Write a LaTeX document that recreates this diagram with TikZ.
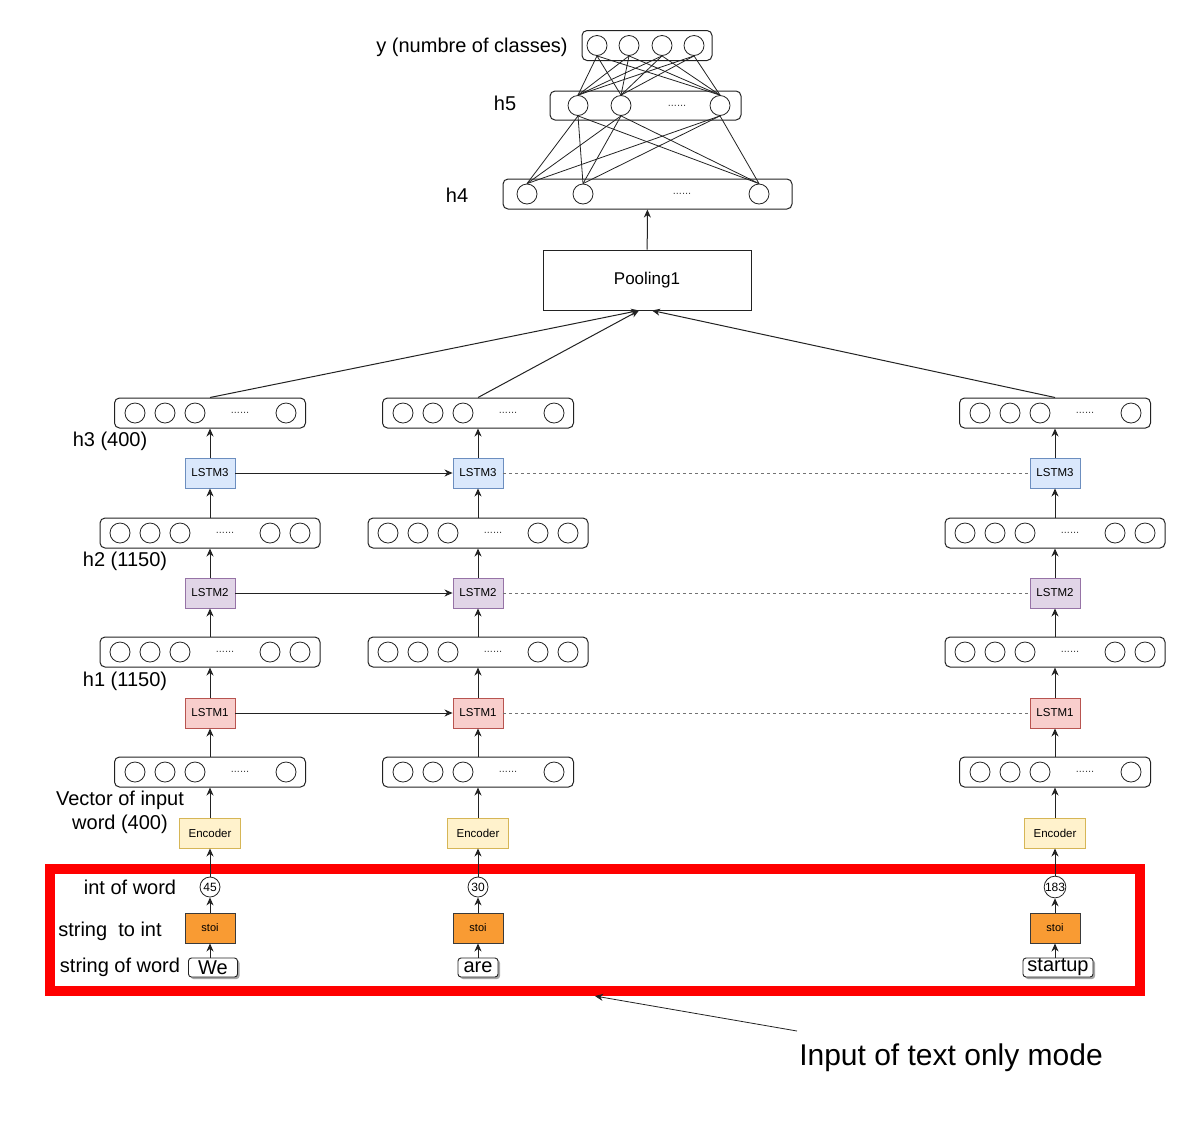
\documentclass[tikz,border=0pt]{standalone}
\usepackage{fontspec}
\setmainfont{Liberation Sans}
\usetikzlibrary{arrows.meta,shadows}
\definecolor{lstmCfill}{HTML}{DAE8FC}\definecolor{lstmCdraw}{HTML}{6C8EBF}
\definecolor{lstmBfill}{HTML}{E1D5E7}\definecolor{lstmBdraw}{HTML}{9673A6}
\definecolor{lstmAfill}{HTML}{F8CECC}\definecolor{lstmAdraw}{HTML}{B85450}
\definecolor{encfill}{HTML}{FFF2CC}\definecolor{encdraw}{HTML}{D6B656}
\definecolor{stoifill}{HTML}{F99B33}\definecolor{stoidraw}{HTML}{3A3A3A}
\definecolor{linecol}{HTML}{222222}
\newcommand\mklayerfive[3]{%
  \node[layerbox, minimum width=191pt] (#1) at (#2,#3) {};
  \foreach \o/\q in {-75/a,-45/b,-15/c,76/d}{\node[unit] (#1\q) at ([xshift=\o pt]#1.center) {};}
  \node[dots] (#1dots) at ([xshift=30pt]#1.center) {......};
}
\newcommand\mklayersix[3]{%
  \node[layerbox, minimum width=220pt] (#1) at (#2,#3) {};
  \foreach \o/\q in {-90/a,-60/b,-30/c,60/d,90/e}{\node[unit] (#1\q) at ([xshift=\o pt]#1.center) {};}
  \node[dots] (#1dots) at ([xshift=15pt]#1.center) {......};
}
\begin{document}
\begin{tikzpicture}[x=1pt,y=-1pt,
  lab/.style={font=\fontsize{20}{23}\selectfont, inner sep=0pt},
  layerbox/.style={draw=linecol, rounded corners=5pt, line width=1pt, minimum height=30pt, inner sep=0pt},
  unit/.style={circle, draw=linecol, line width=0.8pt, minimum size=20pt, inner sep=0pt},
  dots/.style={font=\fontsize{11}{12}\selectfont, text=black!75, inner sep=0pt},
  smallbox/.style={rectangle, line width=0.9pt, minimum height=30pt, inner sep=0pt, font=\fontsize{11.5}{13}\selectfont},
  lstmC/.style={smallbox, fill=lstmCfill, draw=lstmCdraw, minimum width=50pt},
  lstmB/.style={smallbox, fill=lstmBfill, draw=lstmBdraw, minimum width=50pt},
  lstmA/.style={smallbox, fill=lstmAfill, draw=lstmAdraw, minimum width=50pt},
  encbox/.style={smallbox, fill=encfill, draw=encdraw, minimum width=61pt},
  stoibox/.style={smallbox, fill=stoifill, draw=stoidraw, minimum width=50pt, font=\fontsize{11}{13}\selectfont},
  numcirc/.style={circle, draw=linecol, line width=0.8pt, minimum size=20pt, inner sep=0pt, font=\fontsize{12}{13}\selectfont},
  wordbox/.style={draw=linecol, fill=white, line width=0.9pt, rounded corners=3pt, minimum height=19pt, inner sep=0pt,
     font=\fontsize{20}{20}\selectfont, drop shadow={shadow xshift=2pt, shadow yshift=-2pt, opacity=0.35, fill=black}},
  arr/.style={draw=linecol, line width=1pt, -{Stealth[length=8pt,width=7pt,inset=2.5pt]}},
  dotline/.style={draw=black!55, line width=1pt, dash pattern=on 3pt off 3pt},
  net/.style={draw=linecol, line width=0.8pt},
]
\useasboundingbox (0,0) rectangle (1201,1120);

% red input frame
\node[draw=red, line width=10pt, minimum width=1090pt, minimum height=122.5pt, inner sep=0pt] (redbox) at (595,929.75) {};

% top network
\node[layerbox, minimum width=130pt] (ylay) at (647,45.5) {};
\foreach \o/\q in {-50/a,-18/b,15/c,47/d}{\node[unit] (y\q) at ([xshift=\o pt]ylay.center) {};}
\node[layerbox, minimum width=191pt, minimum height=29pt] (h5lay) at (645.5,105.5) {};
\foreach \o/\q in {-67.5/a,-24.5/b,74.5/c}{\node[unit] (h5\q) at ([xshift=\o pt]h5lay.center) {};}
\node[dots] (h5dots) at (677,105.5) {......};
\node[layerbox, minimum width=289pt] (h4lay) at (647.5,194) {};
\foreach \o/\q in {-120.5/a,-64.5/b,111.5/c}{\node[unit] (h4\q) at ([xshift=\o pt]h4lay.center) {};}
\node[dots] (h4dots) at (682,194) {......};
\foreach \i in {a,b,c,d}{\foreach \j in {a,b,c}{\draw[net] (y\i.south) -- (h5\j.north);}}
\foreach \i in {a,b,c}{\foreach \j in {a,b,c}{\draw[net] (h5\i.south) -- (h4\j.north);}}

\node[lab] (labY) at (472,47) {y (numbre of classes)};
\node[lab] (labH5) at (505,103) {h5};
\node[lab] (labH4) at (457,195) {h4};

% pooling
\node[draw=linecol, line width=1pt, minimum width=208pt, minimum height=60pt, inner sep=0pt, font=\fontsize{17}{20}\selectfont] (pool) at (647,280) {Pooling1};
\draw[arr] (pool) -- (h4lay);

% columns
\foreach \k/\x/\n/\w/\wx/\ww in {L/210/45/We/213/49, M/478/30/are/478/40, R/1055/183/startup/1058/70}{
  \node[wordbox, minimum width=\ww pt] (w\k) at (\wx,967.5) {\w};
  \node[stoibox] (st\k) at (\x,928) {stoi};
  \node[numcirc] (n\k) at (\x,887) {\n};
  \node[encbox] (enc\k) at (\x,833) {Encoder};
  \mklayerfive{v\k}{\x}{772}
  \node[lstmA] (la\k) at (\x,713) {LSTM1};
  \mklayersix{ha\k}{\x}{652}
  \node[lstmB] (lb\k) at (\x,593) {LSTM2};
  \mklayersix{hb\k}{\x}{533}
  \node[lstmC] (lc\k) at (\x,473) {LSTM3};
  \mklayerfive{hc\k}{\x}{413}
  \draw[arr] (w\k.north -| st\k.south) -- (st\k.south);
  \draw[arr] (st\k) -- (n\k);
  \draw[arr] (n\k) -- (enc\k);
  \draw[arr] (enc\k) -- (v\k);
  \draw[arr] (v\k) -- (la\k);
  \draw[arr] (la\k) -- (ha\k);
  \draw[arr] (ha\k) -- (lb\k);
  \draw[arr] (lb\k) -- (hb\k);
  \draw[arr] (hb\k) -- (lc\k);
  \draw[arr] (lc\k) -- (hc\k);
}

% recurrent connections
\draw[arr] (laL) -- (laM); \draw[dotline] (laM) -- (laR);
\draw[arr] (lbL) -- (lbM); \draw[dotline] (lbM) -- (lbR);
\draw[arr] (lcL) -- (lcM); \draw[dotline] (lcM) -- (lcR);

% into pooling
\draw[arr] (hcL.north) -- ([xshift=-8pt]pool.south);
\draw[arr] (hcM.north) -- ([xshift=-8pt]pool.south);
\draw[arr] (hcR.north) -- ([xshift=5pt]pool.south);

% left labels
\node[lab] (labH3) at (110,441) {h3 (400)};
\node[lab] (labH2) at (125,561) {h2 (1150)};
\node[lab] (labH1) at (125,681) {h1 (1150)};
\node[lab, align=center, font=\fontsize{20}{24}\selectfont] (labVec) at (120,812) {Vector of input\\word (400)};
\node[lab] (labInt) at (130,887) {int of word};
\node[lab] (labStoi) at (110,931) {string\ \ to int};
\node[lab] (labStr) at (120,967) {string of word};

% annotation
\coordinate (annot) at (797,1031);
\draw[arr, line width=0.8pt] (annot) -- (redbox.south);
\node[inner sep=0pt, font=\fontsize{30}{36}\selectfont] (annottxt) at (951,1058) {Input of text only mode};
\end{tikzpicture}
\end{document}
